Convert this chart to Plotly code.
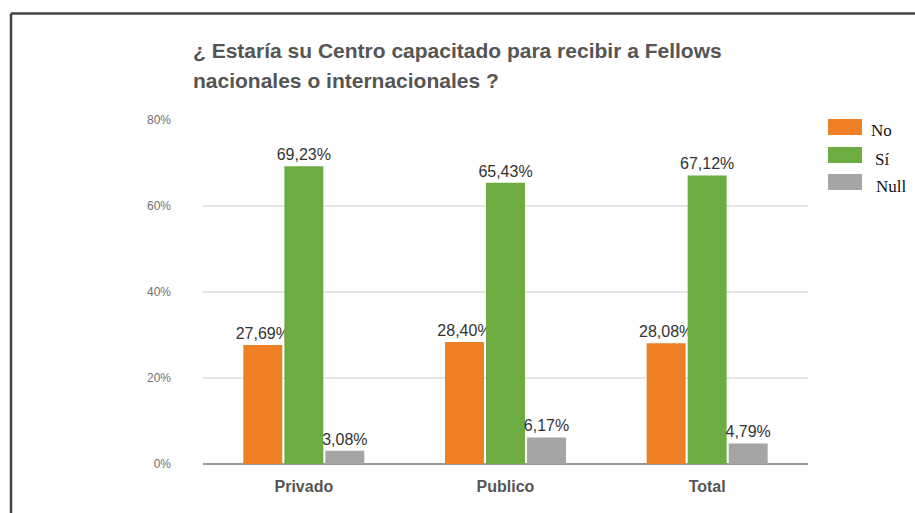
import plotly.graph_objects as go

# Survey results per centre type
categories = ["Privado", "Publico", "Total"]
no_vals = [27.69, 28.40, 28.08]
si_vals = [69.23, 65.43, 67.12]
null_vals = [3.08, 6.17, 4.79]

series_names = ["No", "Sí", "Null"]
series_values = [no_vals, si_vals, null_vals]
series_colors = ["#EE7F24", "#6DAC41", "#A5A5A5"]

y_ticks = [0, 20, 40, 60, 80]
y_tick_text = ["0%", "20%", "40%", "60%", "80%"]

title_lines = ["¿ Estaría su Centro capacitado para recibir a Fellows",
               "nacionales o internacionales ?"]

W, H = 915, 513
L, R, T, B = 203, 107, 120, 49


def fmt(v):
    return f"{v:.2f}".replace(".", ",") + "%"


fig = go.Figure()
for name, vals, col in zip(series_names, series_values, series_colors):
    fig.add_trace(go.Bar(
        x=categories, y=vals, name=name,
        marker=dict(color=col, line=dict(width=0)),
        text=[fmt(v) for v in vals],
        textposition="outside",
        constraintext="none",
        textfont=dict(family="Arial", size=16, color="#333333"),
        cliponaxis=False,
        showlegend=False,
    ))

# helpers: pixel -> paper coordinates
pw, ph = W - L - R, H - T - B


def px(x):
    return (x - L) / pw


def py(y):
    return (H - B - y) / ph


shapes = []
annotations = []

# outer frame (top and left edges)
shapes.append(dict(type="line", xref="paper", yref="paper",
                   x0=px(11), x1=px(W + 5), y0=py(13.5), y1=py(13.5),
                   line=dict(color="#444444", width=2.5)))
shapes.append(dict(type="line", xref="paper", yref="paper",
                   x0=px(11), x1=px(11), y0=py(13.5), y1=py(H + 5),
                   line=dict(color="#444444", width=2.5)))

# two-line title
for line, yc in zip(title_lines, [50, 80]):
    annotations.append(dict(xref="paper", yref="paper", x=px(191), y=py(yc),
                            text=line, showarrow=False, xanchor="left", yanchor="middle",
                            font=dict(family="Arial", size=21, color="#555555", weight="bold")))

# legend swatches and labels
legend_tops = [119, 147, 174]
legend_text_x = [869, 873, 874]
for name, col, top, tx in zip(series_names, series_colors, legend_tops, legend_text_x):
    shapes.append(dict(type="rect", xref="paper", yref="paper",
                       x0=px(828), x1=px(862), y0=py(top), y1=py(top + 16),
                       fillcolor=col, line=dict(width=0)))
    annotations.append(dict(xref="paper", yref="paper", x=px(tx), y=py(top + 12),
                            text=name, showarrow=False, xanchor="left", yanchor="middle",
                            font=dict(family="Liberation Serif", size=17, color="#111111")))

fig.update_layout(
    width=W, height=H,
    margin=dict(l=L, r=R, t=T, b=B),
    paper_bgcolor="white", plot_bgcolor="white",
    barmode="group", bargap=0.39, bargroupgap=0.05,
    shapes=shapes,
    annotations=annotations,
    xaxis=dict(
        showgrid=False, showline=False, ticks="",
        tickfont=dict(family="Arial", size=16, color="#555555", weight="bold"),
        ticklabelstandoff=11,
    ),
    yaxis=dict(
        range=[0, 80], tickvals=y_ticks, ticktext=y_tick_text,
        showgrid=True, gridcolor="#E6E6E6", gridwidth=2,
        zeroline=True, zerolinecolor="#999999", zerolinewidth=2,
        showline=False, ticks="",
        tickfont=dict(family="Arial", size=12, color="#707070"),
        ticklabelstandoff=31,
    ),
)

fig.write_html("out.html")
